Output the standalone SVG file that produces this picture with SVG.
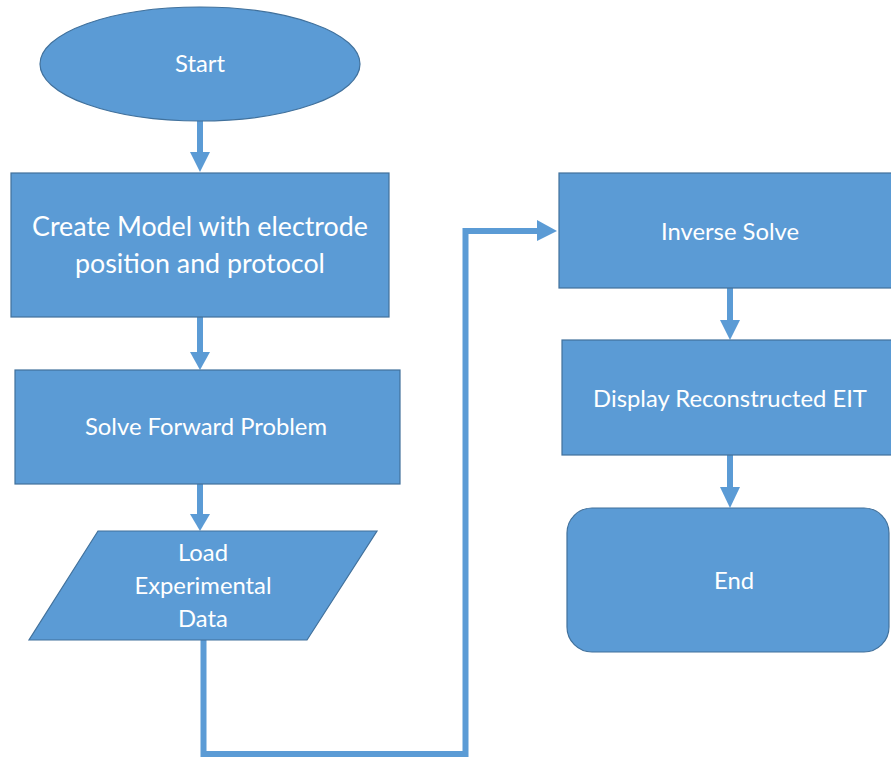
<svg xmlns="http://www.w3.org/2000/svg" width="891" height="757" viewBox="0 0 891 757">
  <defs>
    <style>
      .shape { fill: #5B9BD5; stroke: #41719C; stroke-width: 1.2; }
      .label { fill: #FFFFFF; font-family: Lato, "Open Sans", "Liberation Sans", sans-serif; text-anchor: middle; dominant-baseline: central; font-size: 23.8px; }
      .big { font-size: 26.8px; }
      .wire { fill: none; stroke: #5B9BD5; stroke-width: 6; }
      .head { fill: #5B9BD5; }
    </style>
  </defs>
  <rect width="891" height="757" fill="#FFFFFF"/>

  <!-- flow connectors -->
  <g id="connectors">
    <line class="wire" x1="200" y1="120" x2="200" y2="154"/>
    <polygon class="head" points="190,152 210,152 200,172"/>

    <line class="wire" x1="200" y1="317" x2="200" y2="354"/>
    <polygon class="head" points="190,352 210,352 200,370"/>

    <line class="wire" x1="200" y1="484" x2="200" y2="516"/>
    <polygon class="head" points="190,514 210,514 200,531"/>

    <polyline class="wire" points="203.5,640 203.5,754 465.5,754 465.5,231 539,231"/>
    <polygon class="head" points="537,220 557,231 537,241"/>

    <line class="wire" x1="730" y1="288" x2="730" y2="322"/>
    <polygon class="head" points="720,320 740,320 730,340"/>

    <line class="wire" x1="730" y1="455" x2="730" y2="489"/>
    <polygon class="head" points="720,487 740,487 730,508"/>
  </g>

  <g id="start">
    <ellipse class="shape" cx="200" cy="64" rx="160" ry="57"/>
    <text class="label" x="200" y="63">Start</text>
  </g>

  <g id="create-model">
    <rect class="shape" x="11" y="173" width="378" height="144"/>
    <text class="label big" x="200" y="226">Create Model with electrode</text>
    <text class="label big" x="200" y="263">position and protocol</text>
  </g>

  <g id="forward">
    <rect class="shape" x="15" y="370" width="385" height="114"/>
    <text class="label" x="206" y="426">Solve Forward Problem</text>
  </g>

  <g id="load-data">
    <polygon class="shape" points="98,531 377,531 307,640 29,640"/>
    <text class="label" x="203" y="552">Load</text>
    <text class="label" x="203" y="585">Experimental</text>
    <text class="label" x="203" y="618">Data</text>
  </g>

  <g id="inverse">
    <rect class="shape" x="559" y="173" width="345" height="115"/>
    <text class="label" x="730" y="231">Inverse Solve</text>
  </g>

  <g id="display">
    <rect class="shape" x="562" y="340" width="345" height="115"/>
    <text class="label" x="730" y="398">Display Reconstructed EIT</text>
  </g>

  <g id="end">
    <rect class="shape" x="567" y="508" width="322" height="144" rx="25" ry="25"/>
    <text class="label" x="734" y="580">End</text>
  </g>
</svg>
